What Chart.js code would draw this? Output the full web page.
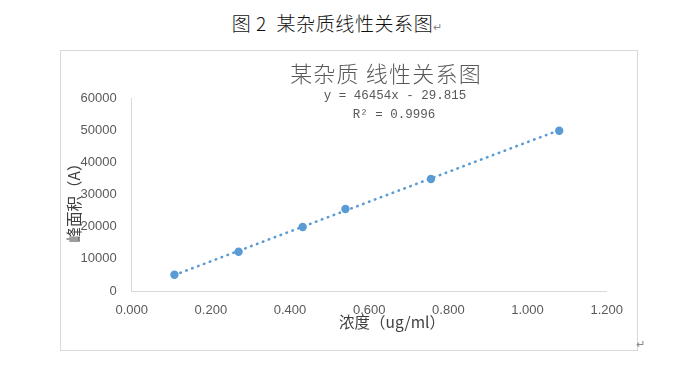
<!DOCTYPE html>
<html>
<head>
<meta charset="utf-8">
<script src="https://cdn.jsdelivr.net/npm/chart.js@4"></script>
<style>
  body { margin: 0; background: #fff; }
  #wrap { position: absolute; left: 0; top: 0; width: 674px; height: 368px; }
  #caption { position: absolute; left: 0; top: 9px; width: 674px; text-align: center; font: 300 19px "Noto Sans CJK SC", sans-serif; letter-spacing: 0.6px; color: #111; }
  #caption .ret, .ret2 { font-size: 11px; color: #888; letter-spacing: 0; }
  #frame { position: absolute; left: 60px; top: 50px; width: 576px; height: 299px; border: 1px solid #d9d9d9; }
  .ret2 { position: absolute; left: 636px; top: 338px; }
</style>
</head>
<body>
<div id="frame"></div>
<div id="caption">图 2&nbsp; 某杂质线性关系图<span class="ret">↵</span></div>
<span class="ret2">↵</span>
<div id="wrap"><canvas id="chart"></canvas></div>
<script>
// 浓度 (ug/ml) 和 峰面积
const concentration = [0.108, 0.270, 0.432, 0.540, 0.756, 1.080];
const peakArea = [5080, 12250, 19950, 25560, 34900, 49970];

// 趋势线两端 (y = 46454x - 29.815)
const trendX = [0.108, 1.080];
const trendY = [4987, 50140];

const xTicks = [0, 0.2, 0.4, 0.6, 0.8, 1.0, 1.2];
const yTicks = [0, 10000, 20000, 30000, 40000, 50000, 60000];

const chartTitle = '某杂质 线性关系图';
const equationText = 'y = 46454x - 29.815';
const r2Text = 'R² = 0.9996';
const xTitle = '浓度（ug/ml）';
const yTitle = '峰面积（A）';

const blue = '#5B9BD5';

// 自己画标题、公式和坐标轴标题
const textPlugin = {
    id: 'texts',
    afterDraw(chart) {
        const ctx = chart.ctx;
        ctx.save();
        ctx.textAlign = 'center';
        ctx.textBaseline = 'middle';

        ctx.fillStyle = '#595959';
        ctx.font = '300 22px "Noto Sans CJK SC"';
        ctx.letterSpacing = '1.2px';
        ctx.fillText(chartTitle, 386, 74);
        ctx.letterSpacing = '0px';

        ctx.font = '12.5px "Liberation Mono"';
        ctx.fillText(equationText, 395, 96);
        ctx.fillText(r2Text, 394, 115);

        ctx.fillStyle = '#404040';
        ctx.font = '15.5px "Noto Sans CJK SC"';
        ctx.fillText(xTitle, 392, 322);

        ctx.translate(74, 199);
        ctx.rotate(-Math.PI / 2);
        ctx.fillText(yTitle, 0, 0);
        ctx.restore();
    }
};

const ctx = document.getElementById('chart').getContext('2d');
new Chart(ctx, {
    type: 'scatter',
    data: {
        datasets: [{
            label: '峰面积',
            data: concentration.map((c, i) => ({ x: c, y: peakArea[i] })),
            backgroundColor: blue,
            borderWidth: 0,
            pointRadius: 4.2,
            order: 1
        }, {
            label: '线性',
            data: trendX.map((c, i) => ({ x: c, y: trendY[i] })),
            showLine: true,
            borderColor: blue,
            borderWidth: 2.6,
            borderDash: [0.5, 5.8],
            borderCapStyle: 'round',
            pointRadius: 0,
            order: 0
        }]
    },
    options: {
        responsive: true,
        maintainAspectRatio: false,
        animation: false,
        layout: { padding: { left: 0, top: 98.5, right: 67.3, bottom: 0 } },
        plugins: {
            legend: { display: false },
            tooltip: { enabled: false }
        },
        scales: {
            x: {
                type: 'linear',
                min: 0,
                max: 1.2,
                afterFit: s => { s.height = 77; },
                afterBuildTicks: s => { s.ticks = xTicks.map(v => ({ value: v })); },
                grid: { display: false, drawTicks: false },
                border: { display: true, color: '#d9d9d9', width: 1 },
                ticks: {
                    padding: 12,
                    color: '#595959',
                    font: { family: 'Liberation Sans', size: 13 },
                    maxRotation: 0,
                    callback: v => v.toFixed(3)
                }
            },
            y: {
                min: 0,
                max: 60000,
                afterFit: s => { s.width = 131.7; },
                afterBuildTicks: s => { s.ticks = yTicks.map(v => ({ value: v })); },
                grid: { display: false, drawTicks: false },
                border: { display: true, color: '#d9d9d9', width: 1 },
                ticks: {
                    padding: 15,
                    color: '#595959',
                    font: { family: 'Liberation Sans', size: 13 },
                    callback: v => String(v)
                }
            }
        }
    },
    plugins: [textPlugin]
});
</script>
</body>
</html>
